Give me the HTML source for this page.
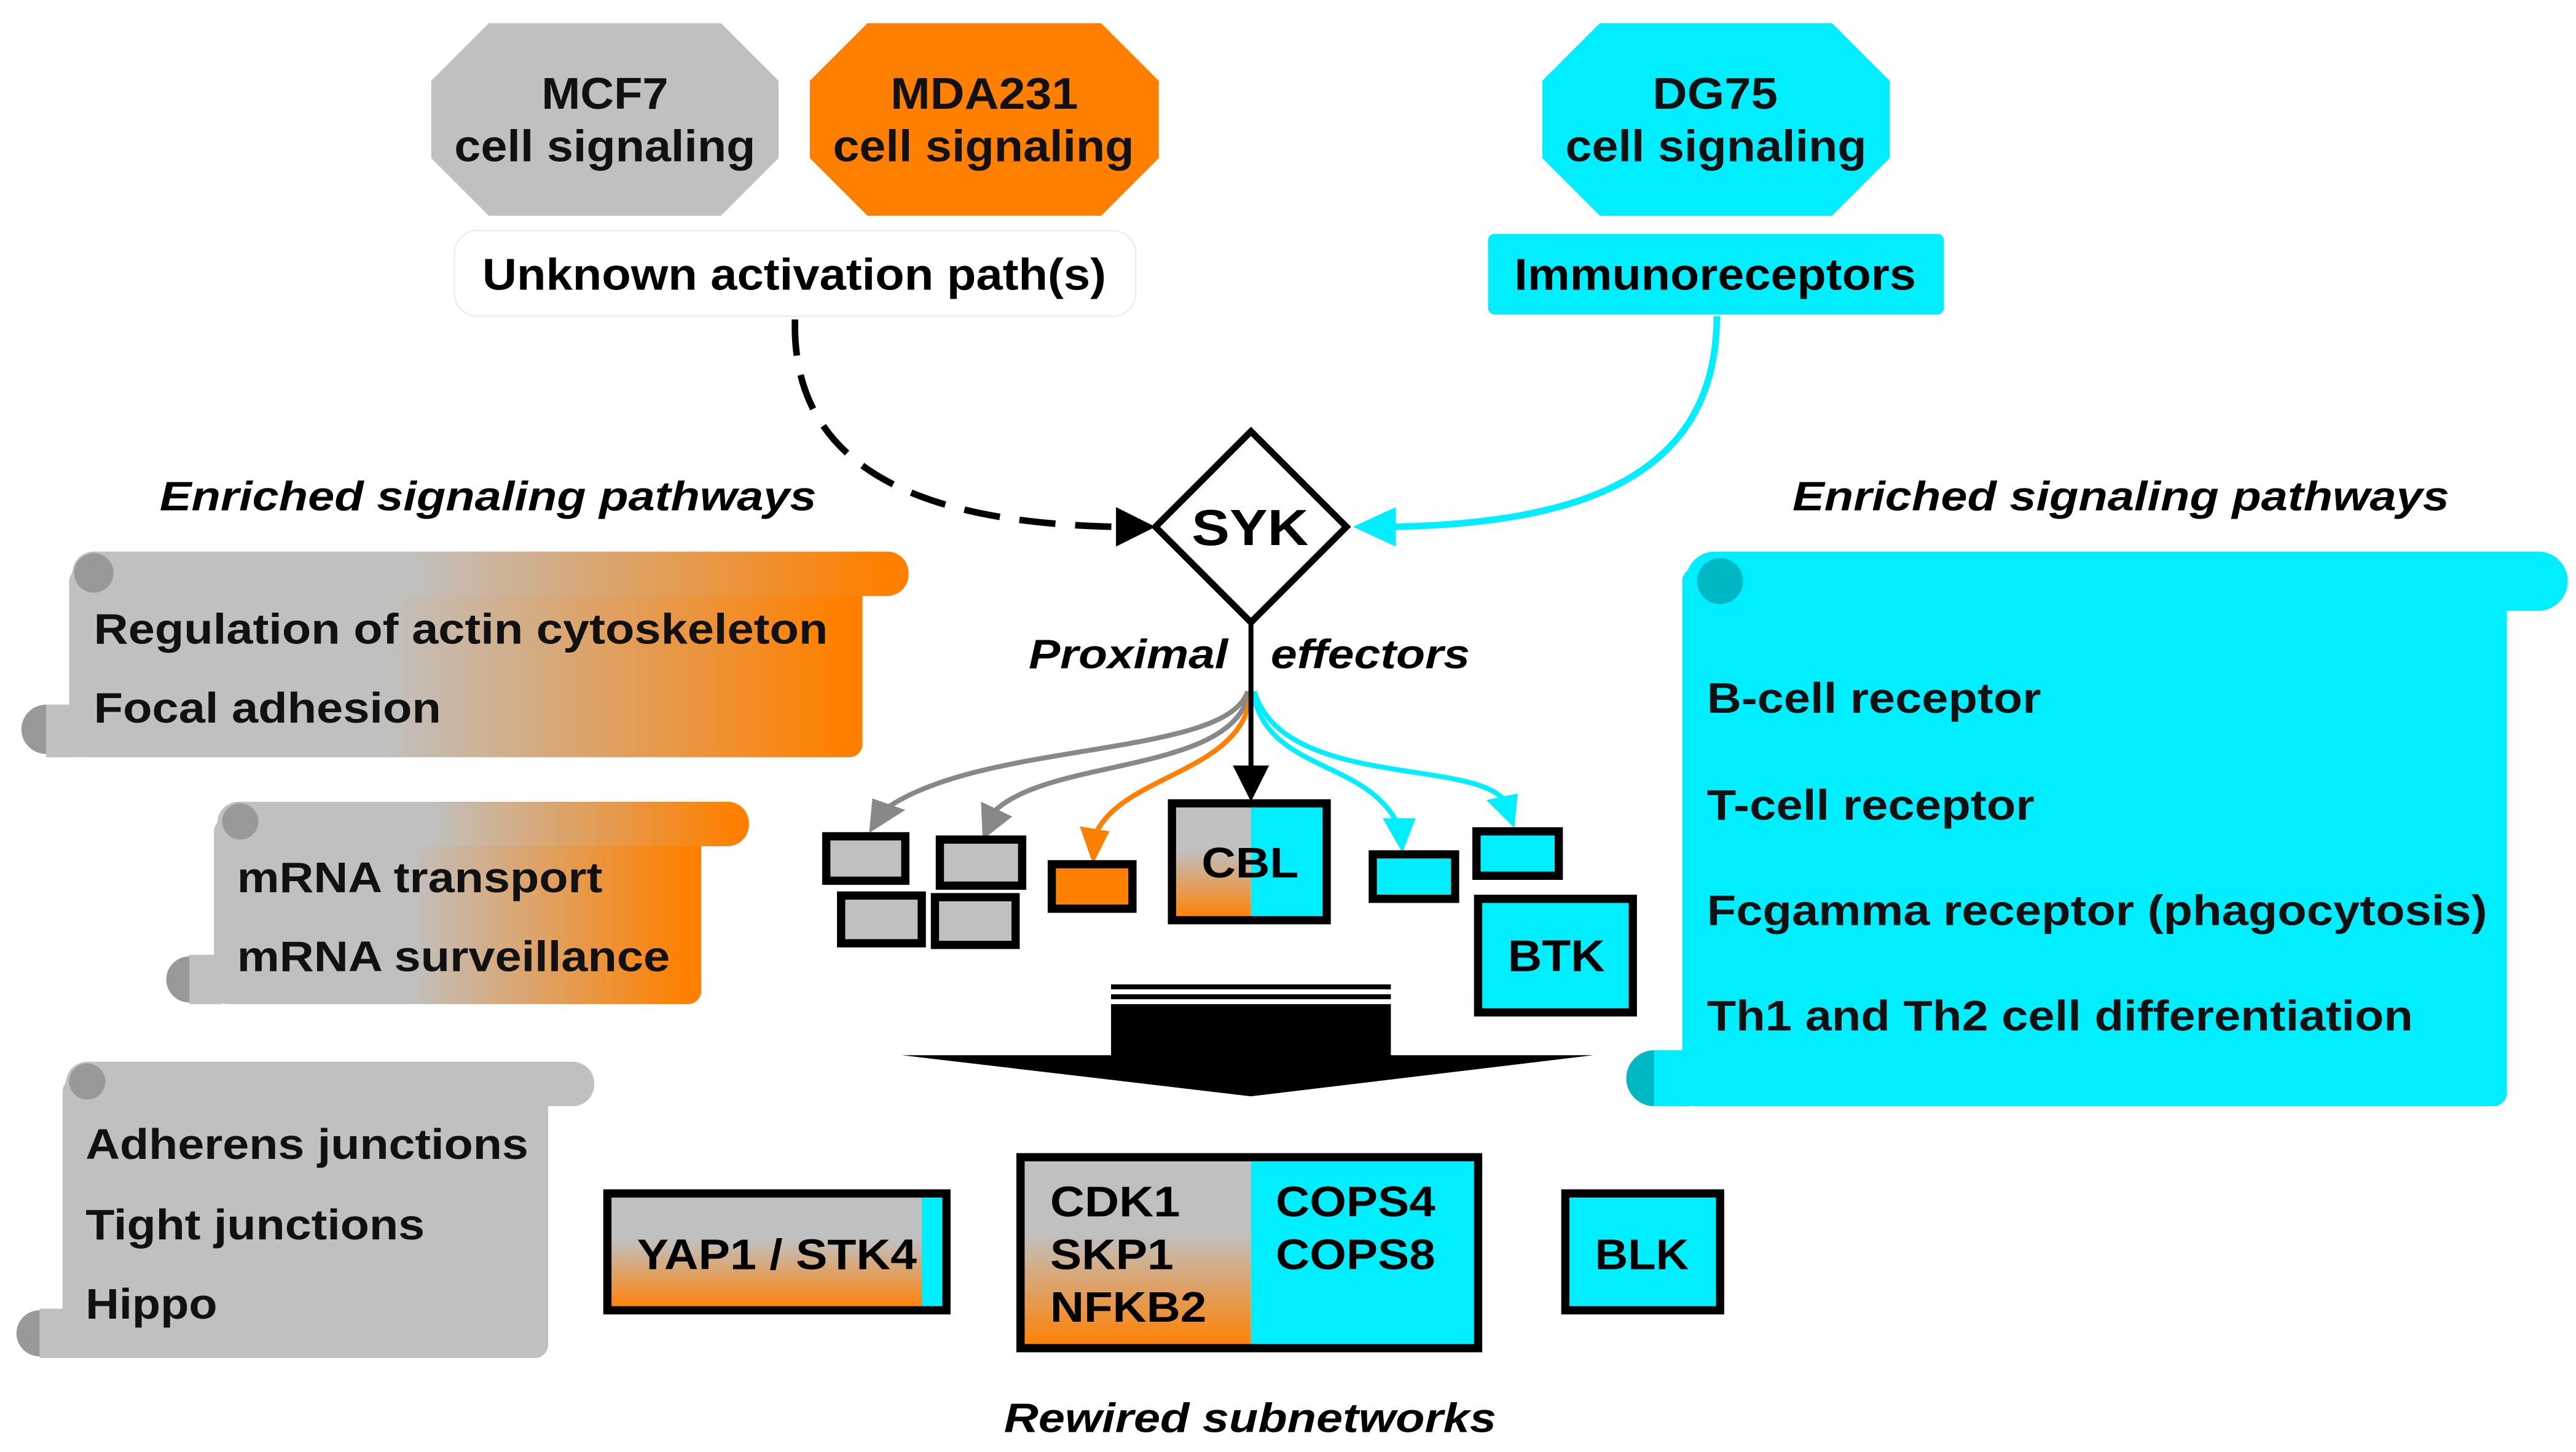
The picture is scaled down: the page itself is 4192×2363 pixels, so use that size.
<!DOCTYPE html>
<html><head><meta charset="utf-8"><style>html,body{margin:0;padding:0;background:#fff}svg{display:block}</style></head>
<body>
<svg width="4192" height="2363" viewBox="0 0 1565 882" xmlns="http://www.w3.org/2000/svg" font-family="'Liberation Sans',sans-serif" font-weight="bold">
<defs>
<linearGradient id="go" x1="0" x2="1" y1="0" y2="0"><stop offset="0.4" stop-color="#c0c0c0"/><stop offset="0.97" stop-color="#ff8000"/></linearGradient>
<linearGradient id="gov" x1="0" x2="0" y1="0" y2="1"><stop offset="0.4" stop-color="#c0c0c0"/><stop offset="1" stop-color="#ff8000"/></linearGradient>
</defs>
<!-- octagons -->
<polygon points="297,14 438,14 473,49 473,96 438,131 297,131 262,96 262,49" fill="#c0c0c0"/>
<polygon points="527,14 669,14 704,49 704,96 669,131 527,131 492,96 492,49" fill="#ff8000"/>
<polygon points="972,14 1113,14 1148,49 1148,96 1113,131 972,131 937,96 937,49" fill="#00eeff"/>
<g font-size="27" fill="#111" lengthAdjust="spacingAndGlyphs">
<text x="329" y="66" textLength="77" lengthAdjust="spacingAndGlyphs">MCF7</text><text x="276" y="98" textLength="183" lengthAdjust="spacingAndGlyphs">cell signaling</text>
<text x="541" y="66" textLength="114" lengthAdjust="spacingAndGlyphs">MDA231</text><text x="506" y="98" textLength="183" lengthAdjust="spacingAndGlyphs">cell signaling</text>
<text x="1004" y="66" textLength="76" lengthAdjust="spacingAndGlyphs">DG75</text><text x="951" y="98" textLength="183" lengthAdjust="spacingAndGlyphs">cell signaling</text>
</g>
<rect x="276" y="140" width="414" height="52" rx="14" fill="#fff" stroke="#eee"/>
<text x="293" y="176" font-size="27" textLength="379" lengthAdjust="spacingAndGlyphs">Unknown activation path(s)</text>
<rect x="904" y="142" width="277" height="49" rx="4" fill="#00eeff"/>
<text x="920" y="176" font-size="27" textLength="244" lengthAdjust="spacingAndGlyphs">Immunoreceptors</text>
<!-- connectors -->
<path d="M483,194 C480,300 590,318 678,320" fill="none" stroke="#000" stroke-width="4" stroke-dasharray="22,12"/>
<path d="M678,308 L702,320 L678,332z" fill="#000"/>
<path d="M1043,192 C1043,290 960,318 845,320" fill="none" stroke="#00eeff" stroke-width="4"/>
<path d="M848,308 L822,320 L848,332z" fill="#00eeff"/>
<polygon points="760,262 818,320 760,378 702,320" fill="#fff" stroke="#000" stroke-width="4"/>
<text x="724" y="331" font-size="31" textLength="71" lengthAdjust="spacingAndGlyphs">SYK</text>
<g font-size="25" font-style="italic">
<text x="97" y="310" textLength="399" lengthAdjust="spacingAndGlyphs">Enriched signaling pathways</text>
<text x="1089" y="310" textLength="399" lengthAdjust="spacingAndGlyphs">Enriched signaling pathways</text>
<text x="610" y="870" textLength="299" lengthAdjust="spacingAndGlyphs">Rewired subnetworks</text>
<text x="625" y="406" textLength="121" lengthAdjust="spacingAndGlyphs">Proximal</text>
<text x="772" y="406" textLength="121" lengthAdjust="spacingAndGlyphs">effectors</text>
</g>
<!-- effector arrows -->
<g fill="none" stroke-width="3">
<path d="M758,420 C745,460 600,450 540,490" stroke="#888"/>
<path d="M759,420 C750,470 640,460 605,492" stroke="#888"/>
<path d="M760,420 C757,470 680,470 665,508" stroke="#ff8000"/>
<path d="M761,420 C770,470 830,460 850,502" stroke="#00eeff"/>
<path d="M762,420 C780,480 900,460 915,488" stroke="#00eeff"/>
<line x1="760" y1="378" x2="760" y2="468" stroke="#000"/>
</g>
<path d="M749,465 L771,465 L760,487z" fill="#000"/>
<path d="M530,485 L550,492 L528,506z" fill="#888"/>
<path d="M596,487 L615,496 L597,510z" fill="#888"/>
<path d="M656,502 L674,505 L664,525z" fill="#ff8000"/>
<path d="M840,497 L860,497 L852,518z" fill="#00eeff"/>
<path d="M903,486 L922,482 L920,503z" fill="#00eeff"/>
<!-- effector boxes -->
<g stroke="#000" stroke-width="5">
<rect x="502" y="508" width="48" height="27" fill="#c0c0c0"/>
<rect x="571" y="510" width="50" height="28" fill="#c0c0c0"/>
<rect x="511" y="544" width="49" height="29" fill="#c0c0c0"/>
<rect x="568" y="545" width="49" height="29" fill="#c0c0c0"/>
<rect x="639" y="525" width="49" height="27" fill="#ff8000"/>
<rect x="834" y="519" width="50" height="27" fill="#00eeff"/>
<rect x="897" y="505" width="50" height="27" fill="#00eeff"/>
<rect x="898" y="546" width="94" height="69" fill="#00eeff"/>
</g>
<rect x="712" y="488" width="48" height="71" fill="url(#gov)"/>
<rect x="760" y="488" width="46" height="71" fill="#00eeff"/>
<rect x="712" y="488" width="94" height="71" fill="none" stroke="#000" stroke-width="5"/>
<text x="730" y="533" font-size="26" textLength="59" lengthAdjust="spacingAndGlyphs">CBL</text>
<text x="916" y="590" font-size="27" textLength="59" lengthAdjust="spacingAndGlyphs">BTK</text>
<!-- big arrow -->
<rect x="675" y="598" width="170" height="3" fill="#000"/>
<rect x="675" y="604" width="170" height="3" fill="#000"/>
<rect x="675" y="610" width="170" height="32" fill="#000"/>
<path d="M548,641 L968,641 L760,666z" fill="#000"/>
<!-- scrolls -->
<g>
<rect x="42" y="345" width="482" height="115" rx="8" fill="url(#go)"/>
<rect x="44" y="335" width="508" height="27" rx="13" fill="url(#go)"/>
<circle cx="57" cy="348" r="12" fill="#999"/>
<circle cx="28" cy="443" r="15" fill="#999"/>
<rect x="28" y="428" width="20" height="32" fill="#c0c0c0"/>
<rect x="130" y="497" width="296" height="113" rx="8" fill="url(#go)"/>
<rect x="132" y="487" width="323" height="27" rx="13" fill="url(#go)"/>
<circle cx="146" cy="499" r="11" fill="#999"/>
<circle cx="115" cy="595" r="14" fill="#999"/>
<rect x="115" y="580" width="20" height="30" fill="#c0c0c0"/>
<rect x="38" y="655" width="295" height="170" rx="8" fill="#c0c0c0"/>
<rect x="40" y="645" width="321" height="27" rx="13" fill="#c0c0c0"/>
<circle cx="53" cy="657" r="11" fill="#999"/>
<circle cx="24" cy="810" r="14" fill="#999"/>
<rect x="24" y="795" width="20" height="30" fill="#c0c0c0"/>
<rect x="1022" y="345" width="501" height="327" rx="8" fill="#00eeff"/>
<rect x="1024" y="335" width="536" height="36" rx="18" fill="#00eeff"/>
<circle cx="1045" cy="353" r="14" fill="#00b8c4"/>
<circle cx="1005" cy="655" r="17" fill="#00b8c4"/>
<rect x="1005" y="638" width="22" height="34" fill="#00eeff"/>
</g>
<g font-size="26" fill="#111">
<text x="57" y="391" textLength="446" lengthAdjust="spacingAndGlyphs">Regulation of actin cytoskeleton</text>
<text x="57" y="439" textLength="211" lengthAdjust="spacingAndGlyphs">Focal adhesion</text>
<text x="144" y="542" textLength="222" lengthAdjust="spacingAndGlyphs">mRNA transport</text>
<text x="144" y="590" textLength="263" lengthAdjust="spacingAndGlyphs">mRNA surveillance</text>
<text x="52" y="704" textLength="269" lengthAdjust="spacingAndGlyphs">Adherens junctions</text>
<text x="52" y="753" textLength="206" lengthAdjust="spacingAndGlyphs">Tight junctions</text>
<text x="52" y="801" textLength="80" lengthAdjust="spacingAndGlyphs">Hippo</text>
<text x="1037" y="433" textLength="203" lengthAdjust="spacingAndGlyphs">B-cell receptor</text>
<text x="1037" y="498" textLength="199" lengthAdjust="spacingAndGlyphs">T-cell receptor</text>
<text x="1037" y="562" textLength="474" lengthAdjust="spacingAndGlyphs">Fcgamma receptor (phagocytosis)</text>
<text x="1037" y="626" textLength="429" lengthAdjust="spacingAndGlyphs">Th1 and Th2 cell differentiation</text>
</g>
<!-- rewired -->
<rect x="369" y="725" width="192" height="71" fill="url(#gov)"/>
<rect x="560" y="725" width="15" height="71" fill="#00eeff"/>
<rect x="369" y="725" width="206" height="71" fill="none" stroke="#000" stroke-width="5"/>
<text x="387" y="771" font-size="26" textLength="170" lengthAdjust="spacingAndGlyphs">YAP1 / STK4</text>
<rect x="620" y="703" width="140" height="116" fill="url(#gov)"/>
<rect x="760" y="703" width="138" height="116" fill="#00eeff"/>
<rect x="620" y="703" width="278" height="116" fill="none" stroke="#000" stroke-width="5"/>
<g font-size="26">
<text x="638" y="739" textLength="79" lengthAdjust="spacingAndGlyphs">CDK1</text><text x="638" y="771" textLength="75" lengthAdjust="spacingAndGlyphs">SKP1</text><text x="638" y="803" textLength="95" lengthAdjust="spacingAndGlyphs">NFKB2</text>
<text x="775" y="739" textLength="97" lengthAdjust="spacingAndGlyphs">COPS4</text><text x="775" y="771" textLength="97" lengthAdjust="spacingAndGlyphs">COPS8</text>
</g>
<rect x="951" y="725" width="94" height="71" fill="#00eeff" stroke="#000" stroke-width="5"/>
<text x="969" y="771" font-size="26" textLength="57" lengthAdjust="spacingAndGlyphs">BLK</text>
</svg>
</body></html>
